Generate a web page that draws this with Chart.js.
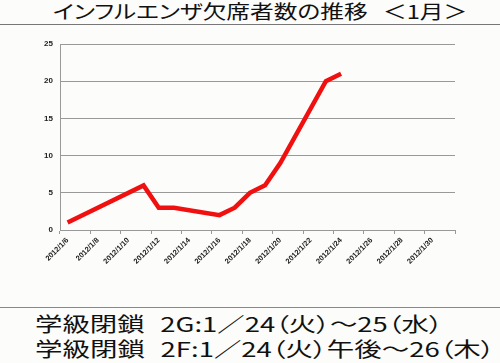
<!DOCTYPE html>
<html>
<head>
<meta charset="utf-8">
<script src="https://cdn.jsdelivr.net/npm/chart.js@4/dist/chart.umd.min.js"></script>
<style>
  body { margin: 0; width: 500px; height: 363px; background: #fcfcfa; overflow: hidden; position: relative;
         font-family: "Noto Sans CJK JP", sans-serif; color: #111; }
  #titlebar { position: absolute; left: 0; top: 0; width: 500px; height: 24px; border-bottom: 1px solid #777; }
  #notesbar { position: absolute; left: 0; top: 307px; width: 500px; height: 56px; border-top: 1px solid #888; }
  .txt { position: absolute; white-space: nowrap; transform-origin: 0 50%; font-feature-settings: "palt"; }
  #title { left: 53px; top: -1px; font-size: 19px; line-height: 24px; word-spacing: 8px; }
  #note1 { left: 35px; top: 312px; font-size: 20px; line-height: 24px; word-spacing: 7px; }
  #note2 { left: 35px; top: 337px; font-size: 20px; line-height: 24px; word-spacing: 7px; }
  #wrap { position: absolute; left: 0; top: 25px; width: 500px; height: 280px; }
</style>
</head>
<body>
<div id="titlebar"></div>
<div id="notesbar"></div>
<span class="txt" id="title">インフルエンザ欠席者数の推移 ＜1月＞</span>
<div id="wrap"><canvas id="chart"></canvas></div>
<span class="txt" id="note1">学級閉鎖 2G:1／24（火）～25（水）</span>
<span class="txt" id="note2">学級閉鎖 2F:1／24（火）午後～26（木）</span>
<script>
// data (null = no data that day)
const days = ["2012/1/6", "2012/1/7", "2012/1/8", "2012/1/9", "2012/1/10", "2012/1/11", "2012/1/12",
    "2012/1/13", "2012/1/14", "2012/1/15", "2012/1/16", "2012/1/17", "2012/1/18", "2012/1/19",
    "2012/1/20", "2012/1/21", "2012/1/22", "2012/1/23", "2012/1/24", "2012/1/25", "2012/1/26",
    "2012/1/27", "2012/1/28", "2012/1/29", "2012/1/30", "2012/1/31"];
const absent = [1, null, null, null, null, 6, 3, 3, null, null, 2, 3, 5, 6, 9, null, null, 20, 21,
    null, null, null, null, null, null, null];
const yTicks = [0, 5, 10, 15, 20, 25];

// stretch the text lines sideways like the scanned original
function fitText(id, width) {
    const el = document.getElementById(id);
    el.style.transform = `scaleX(${width / el.offsetWidth})`;
}
fitText("title", 414);
fitText("note1", 407);
fitText("note2", 460);

const chart = new Chart(document.querySelector("#chart"), {
    type: 'line',
    data: {
        labels: days,
        datasets: [{
            data: absent,
            borderColor: '#f01010',
            borderWidth: 4.5,
            pointRadius: 0,
            tension: 0,
            spanGaps: true
        }]
    },
    options: {
        responsive: true,
        maintainAspectRatio: false,
        animation: false,
        layout: { padding: { left: 0, right: 45, top: 19, bottom: 0 } },
        plugins: { legend: { display: false }, tooltip: { enabled: false } },
        scales: {
            x: {
                offset: true,
                grid: {
                    offset: true,
                    drawOnChartArea: false,
                    tickLength: 4,
                    color: (ctx) => (ctx.index === undefined || ctx.index % 2 === 0) ? '#999' : 'rgba(0,0,0,0)'
                },
                border: { color: '#999' },
                ticks: {
                    autoSkip: false,
                    minRotation: 45,
                    maxRotation: 45,
                    padding: 2,
                    color: '#222',
                    font: { family: "Liberation Sans", size: 7.5, weight: "bold" },
                    callback: function (value, index) {
                        return index % 2 === 0 ? this.getLabelForValue(value) : '';
                    }
                },
                afterFit: (scale) => { scale.height = 75; }
            },
            y: {
                min: yTicks[0],
                max: yTicks[yTicks.length - 1],
                grid: { color: '#999', drawTicks: false },
                border: { color: '#999' },
                ticks: { stepSize: 5, padding: 7, color: '#222', font: { family: "Liberation Sans", size: 8, weight: "bold" } },
                afterFit: (scale) => { scale.width = 60; }
            }
        }
    }
});
</script>
</body>
</html>
